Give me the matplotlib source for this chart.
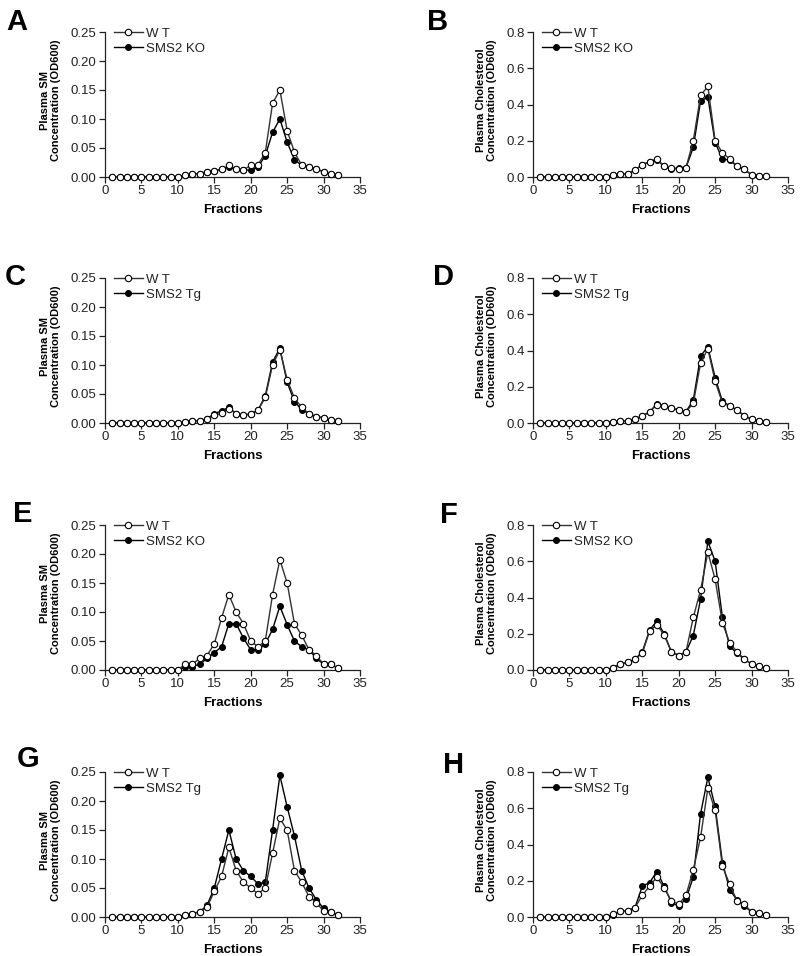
import matplotlib
matplotlib.use("Agg")
import matplotlib.pyplot as plt
from matplotlib.ticker import FormatStrFormatter, MultipleLocator

plt.rcParams['font.family'] = ['Liberation Sans', 'DejaVu Sans']

fractions = list(range(1, 33))
Z = [0.0] * 10

# Panel A: plasma SM, WT vs SMS2 KO
a_wt = Z + [0.003, 0.005, 0.006, 0.009, 0.011, 0.013, 0.020, 0.014, 0.012, 0.020, 0.021,
            0.042, 0.127, 0.150, 0.080, 0.043, 0.020, 0.018, 0.014, 0.009, 0.005, 0.003]
a_ko = Z + [0.003, 0.005, 0.006, 0.009, 0.011, 0.013, 0.018, 0.014, 0.012, 0.012, 0.017,
            0.037, 0.077, 0.100, 0.060, 0.030, 0.020, 0.018, 0.014, 0.009, 0.005, 0.003]
# Panel B: plasma cholesterol, WT vs SMS2 KO
b_wt = Z + [0.011, 0.015, 0.017, 0.039, 0.067, 0.085, 0.100, 0.059, 0.050, 0.043, 0.052,
            0.200, 0.450, 0.500, 0.200, 0.133, 0.100, 0.059, 0.043, 0.011, 0.007, 0.007]
b_ko = Z + [0.011, 0.015, 0.017, 0.039, 0.067, 0.085, 0.095, 0.059, 0.043, 0.052, 0.052,
            0.163, 0.420, 0.440, 0.190, 0.100, 0.092, 0.059, 0.043, 0.011, 0.007, 0.007]
# Panel C: plasma SM, WT vs SMS2 Tg
c_wt = Z + [0.002, 0.004, 0.004, 0.0075, 0.013, 0.017, 0.025, 0.016, 0.013, 0.016, 0.022,
            0.044, 0.100, 0.126, 0.075, 0.043, 0.027, 0.016, 0.011, 0.009, 0.005, 0.003]
c_tg = Z + [0.002, 0.004, 0.004, 0.0075, 0.016, 0.021, 0.027, 0.016, 0.013, 0.016, 0.022,
            0.047, 0.105, 0.129, 0.070, 0.037, 0.023, 0.016, 0.011, 0.009, 0.005, 0.003]
# Panel D: plasma cholesterol, WT vs SMS2 Tg
d_wt = Z + [0.007, 0.009, 0.011, 0.022, 0.039, 0.061, 0.100, 0.093, 0.082, 0.072, 0.063,
            0.108, 0.330, 0.410, 0.230, 0.110, 0.095, 0.070, 0.041, 0.020, 0.009, 0.007]
d_tg = Z + [0.007, 0.009, 0.011, 0.022, 0.039, 0.061, 0.107, 0.093, 0.082, 0.072, 0.063,
            0.126, 0.370, 0.420, 0.250, 0.119, 0.095, 0.070, 0.041, 0.020, 0.009, 0.007]
# Panel E: plasma SM, WT vs SMS2 KO
e_wt = Z + [0.010, 0.010, 0.020, 0.025, 0.045, 0.090, 0.130, 0.100, 0.080, 0.050, 0.040,
            0.050, 0.130, 0.190, 0.150, 0.080, 0.060, 0.035, 0.025, 0.010, 0.010, 0.003]
e_ko = Z + [0.005, 0.006, 0.010, 0.020, 0.030, 0.040, 0.080, 0.080, 0.055, 0.035, 0.035,
            0.045, 0.070, 0.110, 0.078, 0.050, 0.040, 0.035, 0.020, 0.010, 0.010, 0.003]
# Panel F: plasma cholesterol, WT vs SMS2 KO
f_wt = Z + [0.013, 0.033, 0.042, 0.060, 0.092, 0.215, 0.250, 0.193, 0.100, 0.080, 0.100,
            0.290, 0.440, 0.650, 0.500, 0.260, 0.150, 0.100, 0.060, 0.033, 0.020, 0.011]
f_ko = Z + [0.013, 0.033, 0.042, 0.060, 0.100, 0.220, 0.270, 0.200, 0.100, 0.080, 0.100,
            0.190, 0.390, 0.710, 0.600, 0.290, 0.130, 0.092, 0.060, 0.033, 0.020, 0.011]
# Panel G: plasma SM, WT vs SMS2 Tg
g_wt = Z + [0.0035, 0.005, 0.009, 0.017, 0.044, 0.070, 0.120, 0.080, 0.060, 0.050, 0.040,
            0.050, 0.110, 0.170, 0.150, 0.080, 0.060, 0.035, 0.025, 0.010, 0.009, 0.003]
g_tg = Z + [0.0035, 0.006, 0.009, 0.020, 0.050, 0.100, 0.150, 0.100, 0.080, 0.070, 0.057,
            0.060, 0.150, 0.244, 0.190, 0.140, 0.080, 0.050, 0.030, 0.015, 0.009, 0.003]
# Panel H: plasma cholesterol, WT vs SMS2 Tg
h_wt = Z + [0.015, 0.031, 0.035, 0.052, 0.120, 0.170, 0.220, 0.160, 0.088, 0.070, 0.120,
            0.260, 0.440, 0.710, 0.590, 0.280, 0.180, 0.090, 0.070, 0.028, 0.020, 0.011]
h_tg = Z + [0.011, 0.031, 0.035, 0.052, 0.170, 0.190, 0.250, 0.170, 0.080, 0.060, 0.100,
            0.220, 0.570, 0.770, 0.610, 0.300, 0.150, 0.094, 0.060, 0.028, 0.020, 0.011]

panels = [
    ("A", a_wt, a_ko, "SMS2 KO", "sm"),
    ("B", b_wt, b_ko, "SMS2 KO", "chol"),
    ("C", c_wt, c_tg, "SMS2 Tg", "sm"),
    ("D", d_wt, d_tg, "SMS2 Tg", "chol"),
    ("E", e_wt, e_ko, "SMS2 KO", "sm"),
    ("F", f_wt, f_ko, "SMS2 KO", "chol"),
    ("G", g_wt, g_tg, "SMS2 Tg", "sm"),
    ("H", h_wt, h_tg, "SMS2 Tg", "chol"),
]

W, H = 800, 956
fig = plt.figure(figsize=(W / 100, H / 100), dpi=100)

col_left = [105, 533]
ax_w = 255
row_top = [32, 278, 525, 772]
ax_h = 145
letter_pos = [(6, 30), (427, 30), (5, 285), (433, 285),
              (13, 522), (440, 523), (17, 767), (443, 773)]

for i, (letter, wt, mut, mutlabel, kind) in enumerate(panels):
    r, c = divmod(i, 2)
    l = col_left[c]
    t = row_top[r]
    ax = fig.add_axes([l / W, 1 - (t + ax_h) / H, ax_w / W, ax_h / H])
    ax.plot(fractions, mut, '-', color='black', lw=1.0, marker='o', ms=4.2,
            mfc='black', mec='black', mew=0.8, clip_on=False, zorder=3, label=mutlabel)
    ax.plot(fractions, wt, '-', color='#333333', lw=1.0, marker='o', ms=4.6,
            mfc='white', mec='black', mew=0.8, clip_on=False, zorder=4, label='W T')
    ax.set_xlim(0, 35)
    ax.xaxis.set_major_locator(MultipleLocator(5))
    if kind == "sm":
        ax.set_ylim(0, 0.25)
        ax.yaxis.set_major_locator(MultipleLocator(0.05))
        ax.yaxis.set_major_formatter(FormatStrFormatter('%.2f'))
        ylab = "Plasma SM\nConcentration (OD600)"
        lx = -0.173
    else:
        ax.set_ylim(0, 0.8)
        ax.yaxis.set_major_locator(MultipleLocator(0.2))
        ax.yaxis.set_major_formatter(FormatStrFormatter('%.1f'))
        ylab = "Plasma Cholesterol\nConcentration (OD600)"
        lx = -0.141
    for s in ['top', 'right']:
        ax.spines[s].set_visible(False)
    for s in ['left', 'bottom']:
        ax.spines[s].set_linewidth(0.9)
        ax.spines[s].set_color('#222222')
    ax.tick_params(axis='both', direction='out', length=4, width=0.9,
                   color='#222222', labelsize=9.5, labelcolor='#222222', pad=2)
    ax.set_ylabel(ylab, fontsize=8, fontweight='bold', linespacing=1.15)
    ax.yaxis.set_label_coords(lx, 0.53)
    ax.set_xlabel("Fractions", fontsize=9.5, fontweight='bold', labelpad=5)
    handles, labels = ax.get_legend_handles_labels()
    leg = ax.legend(handles[::-1], labels[::-1], loc='upper left',
                    bbox_to_anchor=(0.035, 1.03), frameon=False, fontsize=9.5,
                    handlelength=2.2, handletextpad=0.25, labelspacing=0.22,
                    borderpad=0, borderaxespad=0, numpoints=1)
    for txt in leg.get_texts():
        txt.set_color('#222222')
    lx_px, ly_px = letter_pos[i]
    fig.text(lx_px / W, 1 - ly_px / H, letter, fontsize=21, fontweight='bold',
             ha='left', va='baseline')

fig.savefig("out.png", dpi=100)
